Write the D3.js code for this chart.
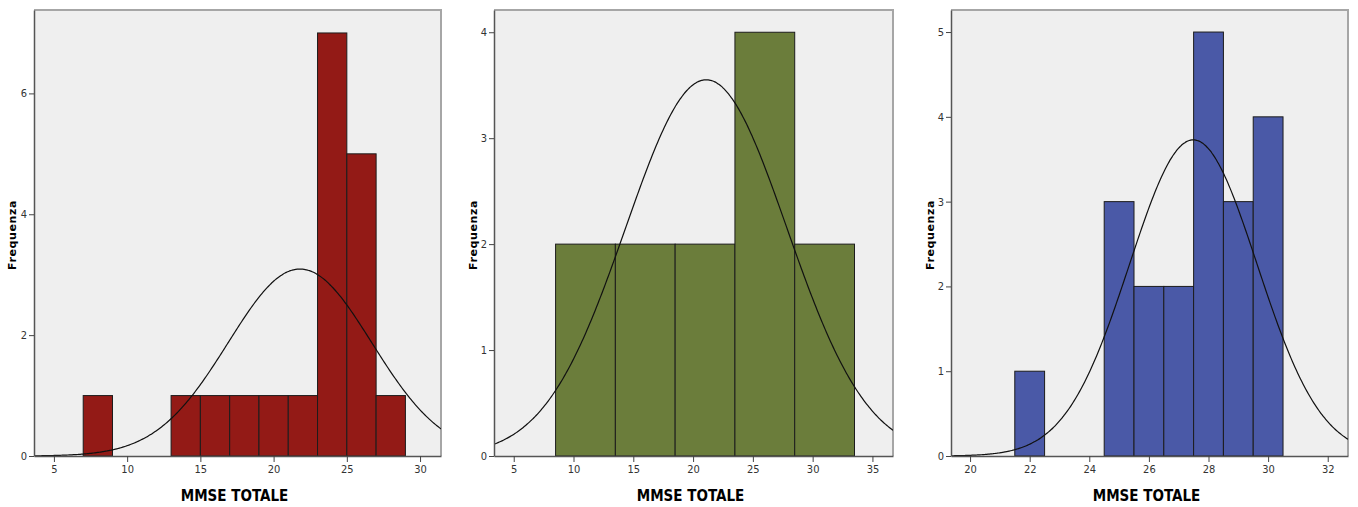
<!DOCTYPE html>
<html>
  <head>
    <meta charset="utf-8" />
    <script src="https://d3js.org/d3.v7.min.js"></script>
    <style>
      body { margin: 0; background: #fff; }
      .tick text { font-family: "Liberation Sans Narrow", "DejaVu Sans Condensed", sans-serif; font-size: 11px; fill: #333; }
      .xlab { font-family: "Liberation Sans Narrow", "DejaVu Sans Condensed", sans-serif; font-weight: bold; font-size: 15px; }
      .ylab { font-family: "DejaVu Sans", sans-serif; font-weight: bold; font-size: 11px; letter-spacing: 0.6px; }
    </style>
  </head>
  <body>
    <svg id="viz"></svg>
    <script>
      var width = 1358, height = 507;

      var xLabel = "MMSE TOTALE";
      var yLabel = "Frequenza";

      // panel 1 (red)
      var binStarts1 = [7, 13, 15, 17, 19, 21, 23, 25, 27];
      var counts1 = [1, 1, 1, 1, 1, 1, 7, 5, 1];
      var binWidth1 = 2;
      var xTicks1 = [5, 10, 15, 20, 25, 30];
      var yTicks1 = [0, 2, 4, 6];
      var xDomain1 = [3.64, 31.43];
      var yDomain1 = [0, 7.38];
      var mean1 = 21.8, sd1 = 4.9;

      // panel 2 (green)
      var binStarts2 = [8.5, 13.5, 18.5, 23.5, 28.5];
      var counts2 = [2, 2, 2, 4, 2];
      var binWidth2 = 5;
      var xTicks2 = [5, 10, 15, 20, 25, 30, 35];
      var yTicks2 = [0, 1, 2, 3, 4];
      var xDomain2 = [3.35, 36.72];
      var yDomain2 = [0, 4.21];
      var mean2 = 21.1, sd2 = 6.74;

      // panel 3 (blue)
      var binStarts3 = [21.5, 24.5, 25.5, 26.5, 27.5, 28.5, 29.5];
      var counts3 = [1, 3, 2, 2, 5, 3, 4];
      var binWidth3 = 1;
      var xTicks3 = [20, 22, 24, 26, 28, 30, 32];
      var yTicks3 = [0, 1, 2, 3, 4, 5];
      var xDomain3 = [19.36, 32.68];
      var yDomain3 = [0, 5.26];
      var mean3 = 27.49, sd3 = 2.14;

      var svg = d3.select("#viz")
          .attr("width", width)
          .attr("height", height);

      var panels = [
        {left: 34, right: 441, labX: 12, color: "#931a16",
         starts: binStarts1, counts: counts1, w: binWidth1, xTicks: xTicks1, yTicks: yTicks1,
         xDomain: xDomain1, yDomain: yDomain1, mean: mean1, sd: sd1},
        {left: 494, right: 893, labX: 473, color: "#6b7d3b",
         starts: binStarts2, counts: counts2, w: binWidth2, xTicks: xTicks2, yTicks: yTicks2,
         xDomain: xDomain2, yDomain: yDomain2, mean: mean2, sd: sd2},
        {left: 951, right: 1348, labX: 930, color: "#4a59a7",
         starts: binStarts3, counts: counts3, w: binWidth3, xTicks: xTicks3, yTicks: yTicks3,
         xDomain: xDomain3, yDomain: yDomain3, mean: mean3, sd: sd3}
      ];

      var plotTop = 10, plotBottom = 456;

      panels.forEach(function(p, i) {
        var g = svg.append("g");

        var x = d3.scaleLinear().domain(p.xDomain).range([p.left, p.right]);
        var y = d3.scaleLinear().domain(p.yDomain).range([plotBottom, plotTop]);

        g.append("clipPath").attr("id", "clip" + i)
          .append("rect")
            .attr("x", p.left).attr("y", plotTop)
            .attr("width", p.right - p.left).attr("height", plotBottom - plotTop);

        g.append("rect")
            .attr("x", p.left).attr("y", plotTop)
            .attr("width", p.right - p.left).attr("height", plotBottom - plotTop)
            .attr("fill", "#efefef");

        // frame: light top/right
        g.append("path")
            .attr("d", "M" + p.left + "," + plotTop + "H" + p.right + "V" + plotBottom)
            .attr("fill", "none")
            .attr("stroke", "#a6a6a6")
            .attr("stroke-width", 2);

        g.selectAll(".bar")
          .data(p.starts)
          .enter().append("rect")
            .attr("class", "bar")
            .attr("x", function(d) { return x(d); })
            .attr("y", function(d, j) { return y(p.counts[j]); })
            .attr("width", function(d) { return x(d + p.w) - x(d); })
            .attr("height", function(d, j) { return plotBottom - y(p.counts[j]); })
            .attr("fill", p.color)
            .attr("stroke", "#1c1c1c")
            .attr("stroke-width", 1);

        var n = d3.sum(p.counts);
        var pts = d3.range(0, 301).map(function(k) {
          var v = p.xDomain[0] + (p.xDomain[1] - p.xDomain[0]) * k / 300;
          var z = (v - p.mean) / p.sd;
          return [v, n * p.w * Math.exp(-0.5 * z * z) / (p.sd * Math.sqrt(2 * Math.PI))];
        });

        var line = d3.line()
            .x(function(d) { return x(d[0]); })
            .y(function(d) { return y(d[1]); })
            .curve(d3.curveBasis);

        g.append("path")
            .datum(pts)
            .attr("clip-path", "url(#clip" + i + ")")
            .attr("d", line)
            .attr("fill", "none")
            .attr("stroke", "#111")
            .attr("stroke-width", 1.2);

        var xAxis = g.append("g")
            .attr("transform", "translate(0," + plotBottom + ")")
            .call(d3.axisBottom(x).tickValues(p.xTicks).tickFormat(d3.format("d"))
              .tickSize(6).tickPadding(3).tickSizeOuter(0));
        xAxis.select(".domain").attr("stroke", "#555").attr("stroke-width", 1.5);
        xAxis.selectAll(".tick line").attr("stroke", "#444");

        var yAxis = g.append("g")
            .attr("transform", "translate(" + p.left + ",0)")
            .call(d3.axisLeft(y).tickValues(p.yTicks).tickFormat(d3.format("d"))
              .tickSize(5).tickPadding(2).tickSizeOuter(0));
        yAxis.select(".domain").attr("stroke", "#555").attr("stroke-width", 1.5);
        yAxis.selectAll(".tick line").attr("stroke", "#444");

        g.append("text")
            .attr("class", "xlab")
            .attr("x", (p.left + p.right) / 2 - 3)
            .attr("y", 501)
            .attr("text-anchor", "middle")
            .text(xLabel);

        g.append("text")
            .attr("class", "ylab")
            .attr("transform", "translate(" + (p.labX + 4) + ",235) rotate(-90)")
            .attr("text-anchor", "middle")
            .text(yLabel);
      });
    </script>
  </body>
</html>
